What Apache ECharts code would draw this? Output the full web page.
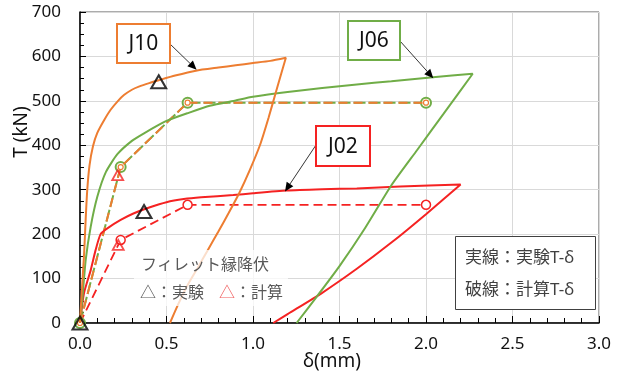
<!DOCTYPE html>
<html><head><meta charset="utf-8">
<script src="https://cdn.jsdelivr.net/npm/echarts@6/dist/echarts.min.js"></script>
<style>html,body{margin:0;padding:0;background:#fff}#c{width:625px;height:378px}</style>
</head><body><div id="c"></div>
<script>
// ---- data (δ in mm, T in kN) ----
const xTicks = [0, 0.5, 1.0, 1.5, 2.0, 2.5, 3.0];
const yTicks = [0, 100, 200, 300, 400, 500, 600, 700];

const J10_exp = [[0,0],[0.01,70],[0.023,150],[0.033,235],[0.042,300],[0.055,355],[0.075,398],[0.1,428],[0.14,457],[0.177,480],[0.22,500],[0.254,513],[0.3,525],[0.34,532],[0.4,540],[0.46,547],[0.55,557],[0.67,568],[0.8,575],[0.9,580],[1.0,585],[1.1,590],[1.19,597],[1.14,530],[1.09,462],[1.04,400],[0.98,343],[0.92,292],[0.86,248],[0.8,206],[0.74,165],[0.68,124],[0.62,84],[0.57,44],[0.52,0]];
const J06_exp = [[0,0],[0.013,52],[0.033,142],[0.062,217],[0.1,284],[0.15,340],[0.216,380],[0.3,410],[0.37,427],[0.46,447],[0.5,455],[0.62,472],[0.75,489],[0.9,501],[1.0,509],[1.2,520],[1.4,529],[1.6,537],[1.8,544],[2.04,553],[2.27,561],[2.1,470],[1.95,390],[1.8,310],[1.65,215],[1.5,128],[1.37,60],[1.252,0]];
const J02_exp = [[0,0],[0.023,67],[0.062,119],[0.09,164],[0.119,200],[0.158,213],[0.235,232],[0.312,247],[0.4,260],[0.5,272],[0.6,279],[0.7,283],[0.886,288],[1.0,292],[1.195,298],[1.4,301],[1.6,303],[1.85,307],[2.2,312],[2.0,245],[1.8,181],[1.6,122],[1.4,68],[1.2,20],[1.117,0]];

const J10_calc = [[0,0],[0.235,351],[0.622,496],[2.0,496]];
const J06_calc = [[0,0],[0.235,351],[0.622,496],[2.0,496]];
const J02_calc = [[0,0],[0.235,187],[0.622,266],[2.0,266]];

const yieldExp  = [[0,0],[0.37,251],[0.455,543]];   // △ 実験
const yieldCalc = [[0.218,333],[0.221,176]];        // △ 計算

// annotation arrow tips (data coords)
const tipJ10 = [0.674, 570], tipJ06 = [2.042, 551], tipJ02 = [1.185, 296];

const ORANGE = '#ED7D31', GREEN = '#70AD47', RED = '#F52222';
const FONT = '"Noto Sans","Noto Sans CJK JP",sans-serif';

const chart = echarts.init(document.getElementById('c'));
chart.setOption({
  animation: false,
  textStyle: {fontFamily: FONT},
  grid: {left: 80, right: 26, top: 12, bottom: 55, show: true, borderColor: '#595959', borderWidth: 1},
  xAxis: {
    type: 'value', min: 0, max: 3, interval: 0.5,
    axisLine: {show: true, onZero: false, lineStyle: {color: '#000', width: 1.5}},
    axisTick: {show: true, inside: true, length: 7, lineStyle: {color: '#000'}},
    minorTick: {show: true, splitNumber: 5, length: 5, lineStyle: {color: '#000'}},
    splitLine: {show: true, lineStyle: {color: '#d9d9d9', width: 1}},
    axisLabel: {fontSize: 17, color: '#111', margin: 13, fontFamily: FONT, formatter: v => v.toFixed(1)}
  },
  yAxis: {
    type: 'value', min: 0, max: 700, interval: 100,
    axisLine: {show: true, onZero: false, lineStyle: {color: '#000', width: 1.5}},
    axisTick: {show: true, inside: true, length: 6, lineStyle: {color: '#000'}},
    minorTick: {show: true, splitNumber: 4, length: 4, lineStyle: {color: '#000'}},
    splitLine: {show: true, lineStyle: {color: '#d9d9d9', width: 1}},
    axisLabel: {fontSize: 17, color: '#111', margin: 19, fontFamily: FONT}
  },
  series: [
    {type: 'line', data: J02_calc, symbol: 'circle', symbolSize: 9, showSymbol: true,
     itemStyle: {color: '#fff', borderColor: RED, borderWidth: 1.5},
     lineStyle: {color: RED, width: 1.8, type: [9, 5]}, z: 3},
    {type: 'line', data: J06_calc, symbol: 'circle', symbolSize: 10, showSymbol: true,
     itemStyle: {color: '#fff', borderColor: GREEN, borderWidth: 2},
     lineStyle: {color: GREEN, width: 2, type: [12, 3]}, z: 3},
    {type: 'line', data: J10_calc, symbol: 'circle', symbolSize: 5, showSymbol: true,
     itemStyle: {color: '#fff', borderColor: ORANGE, borderWidth: 1.2},
     lineStyle: {color: ORANGE, width: 2, type: [9, 6]}, z: 4},
    {type: 'line', data: J02_exp, showSymbol: false, smooth: 0.2, lineStyle: {color: RED, width: 2}, z: 5},
    {type: 'line', data: J06_exp, showSymbol: false, smooth: 0.2, lineStyle: {color: GREEN, width: 2}, z: 5},
    {type: 'line', data: J10_exp, showSymbol: false, smooth: 0.2, lineStyle: {color: ORANGE, width: 2}, z: 5},
    {type: 'scatter', data: yieldCalc, symbol: 'triangle', symbolSize: [11, 10],
     itemStyle: {color: 'rgba(0,0,0,0)', borderColor: RED, borderWidth: 1.8}, z: 6},
    {type: 'scatter', data: yieldExp, symbol: 'triangle', symbolSize: [15, 13],
     itemStyle: {color: 'rgba(0,0,0,0)', borderColor: '#000', borderWidth: 2}, z: 7}
  ]
});

function arrow(from, tipData) {
  const t = chart.convertToPixel({gridIndex: 0}, tipData);
  const dx = t[0] - from[0], dy = t[1] - from[1];
  const L = Math.hypot(dx, dy), ux = dx / L, uy = dy / L;
  const hl = 9, hw = 4;
  const bx = t[0] - ux * hl, by = t[1] - uy * hl;
  return [
    {type: 'line', shape: {x1: from[0], y1: from[1], x2: bx, y2: by}, style: {stroke: '#000', lineWidth: 0.8}, z: 20},
    {type: 'polygon', shape: {points: [[t[0], t[1]], [bx - uy * hw, by + ux * hw], [bx + uy * hw, by - ux * hw]]}, style: {fill: '#000'}, z: 20}
  ];
}
function labelBox(x, y, w, h, txt, color) {
  return [
    {type: 'rect', shape: {x: x, y: y, width: w, height: h}, style: {fill: '#fff', stroke: color, lineWidth: 2}, z: 21},
    {type: 'text', x: x + w / 2, y: y + h / 2 + 1, style: {text: txt, fill: '#111', font: '21px ' + FONT, align: 'center', verticalAlign: 'middle'}, z: 22}
  ];
}

const g = [];
g.push(...arrow([169, 43], tipJ10));
g.push(...arrow([400, 41], tipJ06));
g.push(...arrow([316, 145], tipJ02));
g.push(...labelBox(117, 24, 53, 39, 'J10', ORANGE));
g.push(...labelBox(348, 21, 52, 39, 'J06', GREEN));
g.push(...labelBox(316, 126, 54, 40, 'J02', RED));
// yield note with translucent background
g.push({type: 'rect', shape: {x: 134, y: 250, width: 154, height: 56}, style: {fill: 'rgba(255,255,255,0.75)'}, z: 18});
g.push({type: 'text', x: 141, y: 265, style: {text: 'フィレット縁降伏', fill: '#595959', font: '16px ' + FONT, verticalAlign: 'middle'}, z: 19});
g.push({type: 'text', x: 140, y: 293, style: {text: '△：実験', fill: '#595959', font: '16px ' + FONT, verticalAlign: 'middle'}, z: 19});
g.push({type: 'text', x: 219, y: 293, style: {text: '△', fill: '#F06060', font: '16px ' + FONT, verticalAlign: 'middle'}, z: 19});
g.push({type: 'text', x: 235, y: 293, style: {text: '：計算', fill: '#595959', font: '16px ' + FONT, verticalAlign: 'middle'}, z: 19});
// line-type legend box
g.push({type: 'rect', shape: {x: 455.5, y: 236.5, width: 140, height: 73}, style: {fill: '#fff', stroke: '#404040', lineWidth: 1}, z: 18});
g.push({type: 'text', x: 465, y: 258, style: {text: '実線：実験T-δ', fill: '#404040', font: '17px ' + FONT, verticalAlign: 'middle'}, z: 19});
g.push({type: 'text', x: 465, y: 290, style: {text: '破線：計算T-δ', fill: '#404040', font: '17px ' + FONT, verticalAlign: 'middle'}, z: 19});
// axis titles
g.push({type: 'text', x: 332, y: 362, style: {text: 'δ(mm)', fill: '#111', font: '19px ' + FONT, align: 'center', verticalAlign: 'middle'}, z: 19});
g.push({type: 'text', x: 22, y: 132, rotation: Math.PI / 2, style: {text: 'T (kN)', fill: '#111', font: '19px ' + FONT, align: 'center', verticalAlign: 'middle'}, z: 19});
chart.setOption({graphic: g});
</script></body></html>
